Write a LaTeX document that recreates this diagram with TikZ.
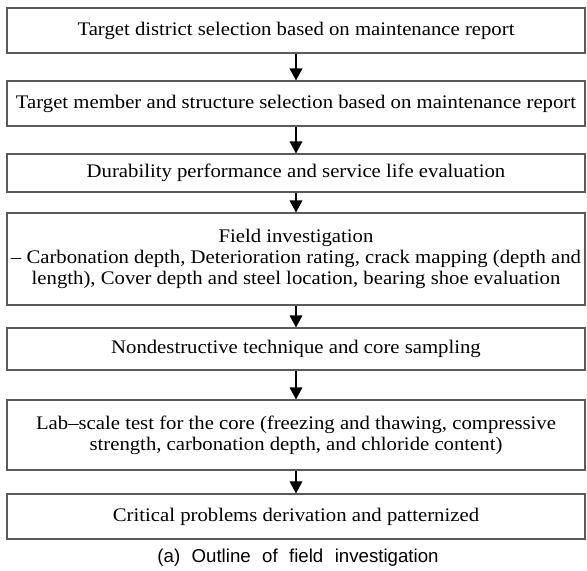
\documentclass[tikz,border=0pt]{standalone}
\usepackage{fontspec}
\setmainfont[FakeStretch=1.08]{Liberation Serif}
\newfontfamily\capfont[WordSpace=2.2]{Liberation Sans}
\usetikzlibrary{arrows.meta}

\definecolor{boxgray}{HTML}{5A5A5A}

\tikzset{
  stepbox/.style={draw=boxgray, line width=0.8pt, minimum width=433.5pt,
    inner sep=0pt, align=center, font=\fontsize{14.4}{15.8}\selectfont},
  flow/.style={-{Triangle[width=9.5pt,length=9pt]}, line width=0.8pt}
}

\begin{document}
\begin{tikzpicture}[x=0.75pt,y=-0.75pt]
        \useasboundingbox (0,0) rectangle (587,571);
        %steps
        \node[stepbox, minimum height=33.75pt] (district) at (296,30.5)
          {Target district selection based on maintenance report};
        \node[stepbox, minimum height=33.75pt] (member) at (296,103.5)
          {Target member and structure selection based on maintenance report};
        \node[stepbox, minimum height=28.5pt] (durability) at (296,173)
          {Durability performance and service life evaluation};
        \node[stepbox, minimum height=69pt] (field) at (296,259)
          {Field investigation\\
           -- Carbonation depth, Deterioration rating, crack mapping (depth and\\
           length), Cover depth and steel location, bearing shoe evaluation};
        \node[stepbox, minimum height=31.5pt] (ndt) at (296,349)
          {Nondestructive technique and core sampling};
        \node[stepbox, minimum height=52.5pt] (lab) at (296,435)
          {Lab--scale test for the core (freezing and thawing, compressive\\
           strength, carbonation depth, and chloride content)};
        \node[stepbox, minimum height=33.75pt] (critical) at (296,516.5)
          {Critical problems derivation and patternized};
        %caption
        \node[font=\capfont\fontsize{14}{16}\selectfont] (caption) at (298,558)
          {(a) Outline of field investigation};
        %arrows
        \draw[flow] (district) -- (member);
        \draw[flow] (member) -- (durability);
        \draw[flow] (durability) -- (field);
        \draw[flow] (field) -- (ndt);
        \draw[flow] (ndt) -- (lab);
        \draw[flow] (lab) -- (critical);
        \end{tikzpicture}
\end{document}
